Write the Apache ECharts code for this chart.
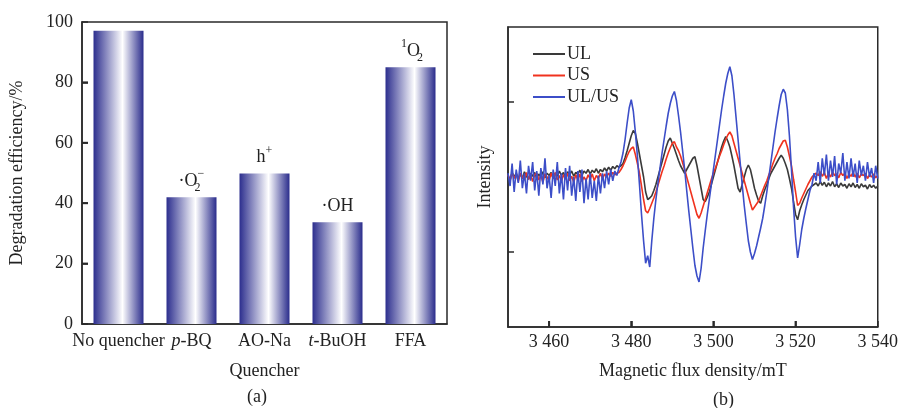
<!DOCTYPE html>
<html>
<head>
<meta charset="utf-8">
<script src="https://cdn.jsdelivr.net/npm/echarts@6/dist/echarts.min.js"></script>
<style>
html,body{margin:0;padding:0;background:#fff;}
#c{width:901px;height:408px;}
</style>
</head>
<body>
<div id="c"></div>
<script>
// ---------- Panel (a) data ----------
const categories = ['No quencher', 'p-BQ', 'AO-Na', 't-BuOH', 'FFA'];
const efficiency = [97.1, 42.0, 49.8, 33.7, 85.0];
const speciesLabels = ['', '·O{sub|2}{sup|−}', 'h{sup|+}', '·OH', '{sup|1}O{sub|2}'];
const effTicks = [0, 20, 40, 60, 80, 100];

// ---------- Panel (b) data ----------
const fieldStart = 3450, fieldStep = 0.5; // sampling grid (mT)
const fieldTicks = [3460, 3480, 3500, 3520, 3540];
const intensityTicks = [-1, 1];
const seriesNames = ['UL', 'US', 'UL/US'];
const ulValues = [
 0.02,-0.04,0.06,0.00,0.05,-0.03,0.04,-0.02,0.07,0.01,
 -0.03,0.05,0.01,0.06,-0.02,0.04,0.00,0.07,-0.01,0.05,
 0.02,0.06,-0.02,0.05,0.01,0.08,0.02,0.06,-0.01,0.07,
 0.03,0.08,0.01,0.06,0.04,0.09,0.02,0.08,0.05,0.10,
 0.04,0.09,0.06,0.11,0.05,0.10,0.07,0.12,0.08,0.13,
 0.09,0.14,0.11,0.15,0.13,0.15,0.18,0.26,0.35,0.45,
 0.55,0.62,0.58,0.45,0.30,0.15,0.00,-0.20,-0.30,-0.28,
 -0.25,-0.18,-0.10,0.00,0.10,0.20,0.30,0.40,0.48,0.52,
 0.45,0.38,0.30,0.22,0.15,0.10,0.05,0.10,0.15,0.20,
 0.25,0.27,0.15,0.00,-0.15,-0.30,-0.33,-0.27,-0.20,-0.10,
 0.00,0.10,0.20,0.30,0.40,0.48,0.54,0.48,0.40,0.28,
 0.15,0.00,-0.15,-0.20,-0.10,0.00,0.10,0.16,0.10,-0.02,
 -0.15,-0.24,-0.32,-0.35,-0.25,-0.17,-0.10,-0.02,0.05,0.10,
 0.15,0.20,0.25,0.29,0.25,0.18,0.10,-0.02,-0.15,-0.33,
 -0.50,-0.57,-0.45,-0.37,-0.30,-0.24,-0.18,-0.15,-0.12,-0.10,
 -0.08,-0.12,-0.06,-0.11,-0.07,-0.13,-0.08,-0.12,-0.06,-0.13,
 -0.09,-0.14,-0.08,-0.12,-0.10,-0.15,-0.09,-0.13,-0.08,-0.14,
 -0.10,-0.15,-0.09,-0.13,-0.11,-0.16,-0.10,-0.14,-0.11,-0.15,
 -0.12
];
const usValues = [
 0.03,-0.05,0.06,-0.02,0.04,-0.06,0.05,0.00,-0.04,0.06,
 -0.03,0.04,-0.06,0.03,0.05,-0.04,0.02,-0.07,0.04,0.00,
 -0.05,0.05,-0.02,0.06,-0.04,0.02,-0.06,0.03,-0.03,0.05,
 -0.05,0.01,-0.07,0.03,-0.04,0.04,-0.06,0.00,-0.05,0.03,
 -0.03,0.04,-0.05,0.02,-0.02,0.05,-0.03,0.04,0.00,0.05,
 0.01,0.06,0.03,0.05,0.06,0.10,0.15,0.21,0.28,0.34,
 0.38,0.40,0.30,0.18,0.05,-0.12,-0.30,-0.45,-0.48,-0.42,
 -0.35,-0.28,-0.20,-0.11,-0.02,0.07,0.15,0.24,0.32,0.39,
 0.45,0.47,0.40,0.35,0.28,0.19,0.10,0.00,-0.10,-0.20,
 -0.30,-0.40,-0.50,-0.55,-0.48,-0.39,-0.30,-0.21,-0.12,-0.03,
 0.05,0.12,0.20,0.28,0.35,0.43,0.50,0.56,0.60,0.55,
 0.45,0.35,0.25,0.15,0.05,-0.05,-0.15,-0.25,-0.35,-0.44,
 -0.40,-0.36,-0.32,-0.25,-0.18,-0.11,-0.05,0.03,0.10,0.18,
 0.25,0.31,0.38,0.43,0.48,0.49,0.40,0.28,0.15,-0.03,
 -0.20,-0.38,-0.35,-0.28,-0.22,-0.16,-0.10,-0.05,0.00,0.03,
 0.05,0.02,0.07,0.01,0.06,-0.02,0.05,0.00,0.07,0.02,
 0.04,-0.01,0.06,0.02,0.05,-0.02,0.04,0.01,0.06,0.00,
 0.05,-0.01,0.04,0.02,0.05,-0.02,0.03,0.00,0.04,-0.01,
 0.02
];
const ulusValues = [
 0.05,-0.12,0.18,-0.20,0.10,-0.08,0.22,-0.15,0.05,-0.22,
 0.15,-0.05,0.20,-0.18,0.08,-0.25,0.12,-0.10,0.25,-0.15,
 0.02,-0.28,0.10,-0.12,0.20,-0.22,0.05,-0.30,0.12,-0.18,
 0.15,-0.25,0.00,-0.32,0.08,-0.20,0.10,-0.35,-0.02,-0.30,
 0.05,-0.28,-0.05,-0.32,0.02,-0.22,0.05,-0.15,0.08,-0.10,
 0.10,-0.05,0.08,0.02,0.12,0.20,0.32,0.50,0.72,0.92,
 1.03,0.88,0.60,0.28,-0.10,-0.50,-0.85,-1.15,-1.05,-1.20,
 -0.85,-0.55,-0.30,-0.08,0.12,0.32,0.50,0.68,0.85,0.98,
 1.08,1.14,1.02,0.82,0.60,0.35,0.10,-0.18,-0.45,-0.70,
 -0.95,-1.18,-1.32,-1.40,-1.22,-0.95,-0.72,-0.50,-0.30,-0.10,
 0.10,0.30,0.50,0.70,0.90,1.08,1.25,1.38,1.47,1.35,
 1.10,0.80,0.50,0.20,-0.10,-0.38,-0.62,-0.85,-1.00,-1.10,
 -1.02,-0.92,-0.80,-0.68,-0.55,-0.38,-0.20,0.00,0.20,0.40,
 0.60,0.78,0.95,1.10,1.17,1.12,0.90,0.55,0.10,-0.40,
 -0.80,-1.08,-0.90,-0.70,-0.55,-0.42,-0.30,-0.18,-0.10,0.05,
 -0.05,0.20,-0.08,0.25,0.02,0.30,-0.05,0.22,0.00,0.28,
 -0.10,0.18,0.05,0.32,-0.05,0.20,-0.02,0.25,0.00,0.18,
 -0.08,0.22,0.02,0.15,-0.05,0.20,0.00,0.12,-0.08,0.15,
 -0.02
];

// ---------- build ----------
const FONT = '"Liberation Serif", "DejaVu Serif", serif';
const TXT = '#222';
const FS = 18;
const AX = {color:'#2a2a2a', width:1.5};
const TK = {color:'#2a2a2a', width:1.5};
const GA = {left:82, top:22, width:365, height:302};
const GB = {left:508, top:27, width:373, height:300};
function pairs(vals){ return vals.map((v,i)=>[fieldStart + i*fieldStep, v]); }
const barGrad = new echarts.graphic.LinearGradient(0,0,1,0,[
  {offset:0, color:'#2c2e8e'},
  {offset:0.58, color:'#ffffff'},
  {offset:1, color:'#2a2c8c'}
]);
const richLbl = {
  b:{fontFamily:FONT,fontSize:FS,color:TXT,lineHeight:26,verticalAlign:'middle'},
  sub:{fontFamily:FONT,fontSize:12,color:TXT,lineHeight:12,verticalAlign:'bottom',width:0},
  sup:{fontFamily:FONT,fontSize:12,color:TXT,lineHeight:12,verticalAlign:'top'}
};
const chart = echarts.init(document.getElementById('c'), null, {renderer:'canvas'});
chart.setOption({
  animation:false,
  backgroundColor:'#fff',
  title:[
    {text:'(a)', left:242, top:383, textStyle:{fontFamily:FONT,fontSize:FS,fontWeight:'normal',color:TXT}},
    {text:'(b)', left:708, top:386, textStyle:{fontFamily:FONT,fontSize:FS,fontWeight:'normal',color:TXT}}
  ],
  legend:{
    data:seriesNames, orient:'vertical', left:528, top:40,
    itemWidth:32, itemHeight:2, itemGap:3.5, icon:'rect',
    textStyle:{fontFamily:FONT,fontSize:FS,color:TXT,padding:[0,0,0,-3]}
  },
  grid:[
    Object.assign({show:true, borderColor:'#2a2a2a', borderWidth:1.5, backgroundColor:'transparent'}, GA),
    Object.assign({show:true, borderColor:'#2a2a2a', borderWidth:1.5, backgroundColor:'transparent'}, GB)
  ],
  xAxis:[
    {type:'category', gridIndex:0, data:categories, boundaryGap:true,
     axisLine:{show:true, lineStyle:AX}, axisTick:{show:false},
     axisLabel:{fontFamily:FONT,fontSize:FS,color:TXT,margin:8,interval:0,
       formatter:v=>v.replace(/^(p|t)-/, '{i|$1}-'),
       rich:{i:{fontFamily:FONT,fontSize:FS,color:TXT,fontStyle:'italic'}}},
     name:'Quencher', nameLocation:'middle', nameGap:38,
     nameTextStyle:{fontFamily:FONT,fontSize:FS,color:TXT,verticalAlign:'top'}},
    {type:'value', gridIndex:1, min:3450, max:3540,
     axisLine:{show:true, onZero:false, lineStyle:AX}, splitLine:{show:false},
     axisTick:{show:true, inside:true, length:6, customValues:fieldTicks, lineStyle:TK},
     axisLabel:{fontFamily:FONT,fontSize:FS,color:TXT,margin:6, customValues:fieldTicks,
       formatter:v=>String(v).replace(/(\d)(\d{3})$/, '$1 $2')},
     name:'Magnetic flux density/mT', nameLocation:'middle', nameGap:35,
     nameTextStyle:{fontFamily:FONT,fontSize:FS,color:TXT,verticalAlign:'top'}}
  ],
  yAxis:[
    {type:'value', gridIndex:0, min:0, max:100, interval:20,
     axisLine:{show:true, lineStyle:AX}, splitLine:{show:false},
     axisTick:{show:true, inside:true, length:6, lineStyle:TK},
     axisLabel:{fontFamily:FONT,fontSize:FS,color:TXT,margin:9},
     name:'Degradation efficiency/%', nameLocation:'middle', nameGap:56, nameRotate:90,
     nameTextStyle:{fontFamily:FONT,fontSize:FS,color:TXT}},
    {type:'value', gridIndex:1, min:-2, max:2,
     axisLine:{show:true, lineStyle:AX}, splitLine:{show:false},
     axisTick:{show:true, inside:true, length:6, customValues:intensityTicks, lineStyle:TK},
     axisLabel:{show:false},
     name:'Intensity', nameLocation:'middle', nameGap:14, nameRotate:90,
     nameTextStyle:{fontFamily:FONT,fontSize:FS,color:TXT}}
  ],
  series:[
    {type:'bar', xAxisIndex:0, yAxisIndex:0, barWidth:50,
     data:efficiency.map((v,i)=>({value:v, label:{show:!!speciesLabels[i], formatter:'{b|'+speciesLabels[i].replace(/\{(sub|sup)\|([^}]*)\}/g,'}{$1|$2}{b|')+'}'}})),
     itemStyle:{color:barGrad},
     label:{position:'top', distance:3, rich:richLbl}},
    {type:'line', name:'UL', xAxisIndex:1, yAxisIndex:1, data:pairs(ulValues), showSymbol:false,
     color:'#3a3a3a', lineStyle:{width:1.6,color:'#3a3a3a'}, z:2},
    {type:'line', name:'US', xAxisIndex:1, yAxisIndex:1, data:pairs(usValues), showSymbol:false,
     color:'#f0321e', lineStyle:{width:1.6,color:'#f0321e'}, z:3},
    {type:'line', name:'UL/US', xAxisIndex:1, yAxisIndex:1, data:pairs(ulusValues), showSymbol:false,
     color:'#3c4ec8', lineStyle:{width:1.6,color:'#3c4ec8'}, z:4}
  ]
});

// Inward tick marks placed through the axes' own scales (convertToPixel)
const tickEls = [];
effTicks.slice(1, -1).forEach(v => {
  const py = chart.convertToPixel({yAxisIndex:0}, v);
  tickEls.push({type:'line', z:50, silent:true,
    shape:{x1:GA.left, y1:py, x2:GA.left + 6, y2:py},
    style:{stroke:'#2a2a2a', lineWidth:2}});
});
fieldTicks.slice(0, -1).forEach(v => {
  const px = chart.convertToPixel({xAxisIndex:1}, v);
  const yb = GB.top + GB.height;
  tickEls.push({type:'line', z:50, silent:true,
    shape:{x1:px, y1:yb, x2:px, y2:yb - 6},
    style:{stroke:'#2a2a2a', lineWidth:2}});
});
chart.setOption({graphic:tickEls});
</script>
</body>
</html>
